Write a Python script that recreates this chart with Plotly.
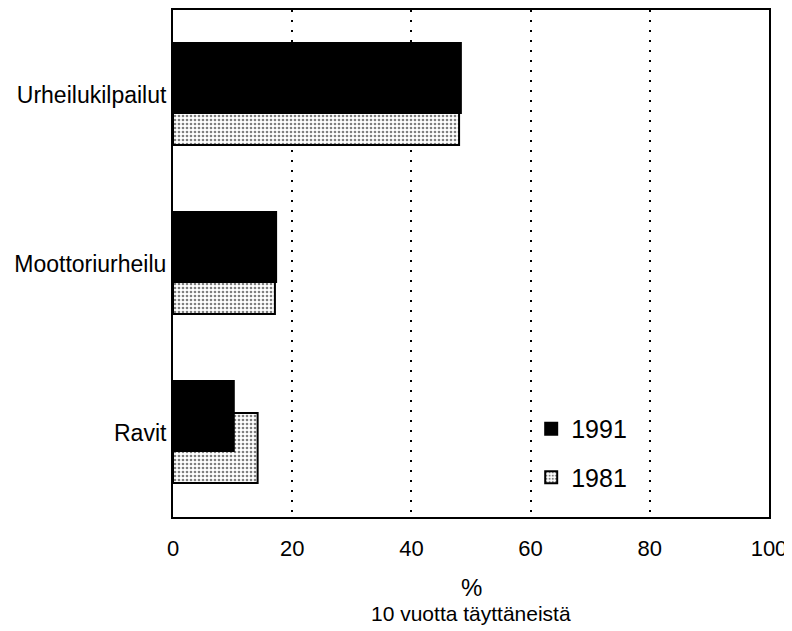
import plotly.graph_objects as go

categories = ["Urheilukilpailut", "Moottoriurheilu", "Ravit"]
values_1991 = [48.3, 17.3, 10.2]
values_1981 = [48.0, 17.1, 14.2]
x_ticks = [0, 20, 40, 60, 80, 100]

fig = go.Figure()
fig.add_trace(go.Bar(
    y=categories, x=values_1981, orientation="h", name="1981", legendgroup="b",
    legendrank=2,
    width=0.414, offset=-0.299,
    marker=dict(color="white", line=dict(color="black", width=2),
                pattern=dict(shape=".", size=4, solidity=0.35, fgcolor="black", bgcolor="white")),
))
fig.add_trace(go.Bar(
    y=categories, x=values_1991, orientation="h", name="1991", legendgroup="a",
    legendrank=1,
    width=0.414, offset=-0.109,
    marker=dict(color="black", line=dict(color="black", width=2)),
))

fig.update_layout(
    width=792, height=631,
    barmode="overlay",
    paper_bgcolor="white", plot_bgcolor="white",
    margin=dict(l=165, r=31, t=2, b=122, autoexpand=False),
    font=dict(family="Liberation Sans, Arial", color="black"),
    legend=dict(traceorder="grouped", tracegroupgap=13,
                x=0.601, y=0.219, xanchor="left", yanchor="top",
                font=dict(size=25), bgcolor="rgba(0,0,0,0)", itemwidth=30),
    showlegend=True,
    annotations=[
        dict(text="%", x=0.5, y=-0.139, xref="paper", yref="paper",
             showarrow=False, font=dict(size=24), xanchor="center", yanchor="middle"),
        dict(text="10 vuotta täyttäneistä", x=0.5, y=-0.19, xref="paper", yref="paper",
             showarrow=False, font=dict(size=21), xanchor="center", yanchor="middle"),
    ],
)
fig.update_xaxes(
    range=[0, 100], tickvals=x_ticks, ticktext=[str(t) for t in x_ticks],
    showline=True, mirror=True, linecolor="black", linewidth=2,
    showgrid=True, gridcolor="black", gridwidth=2, griddash="2px,8px",
    zeroline=False, ticks="", tickfont=dict(size=22), ticklabelstandoff=11,
    automargin=False,
)
fig.update_yaxes(
    categoryorder="array", categoryarray=categories[::-1], range=[-0.5, 2.5],
    showline=True, mirror=True, linecolor="black", linewidth=2,
    showgrid=False, zeroline=False, ticks="", tickfont=dict(size=23), ticklabelstandoff=0,
    automargin=False,
)
fig.write_html("out.html")
